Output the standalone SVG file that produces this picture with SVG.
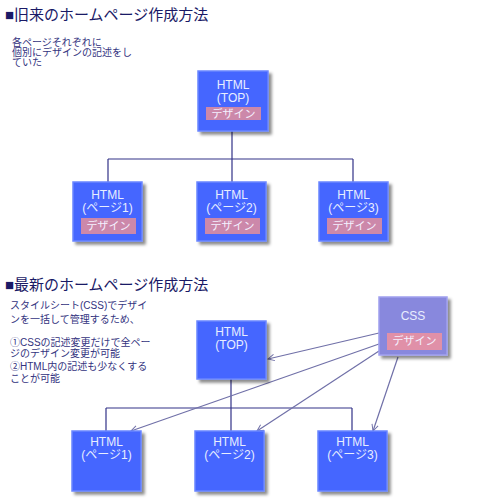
<svg xmlns="http://www.w3.org/2000/svg" width="480" height="500" viewBox="0 0 480 500">
<defs>
<filter id="sh" x="-20%" y="-20%" width="150%" height="150%">
<feDropShadow dx="3" dy="3" stdDeviation="1.5" flood-color="#000" flood-opacity="0.45"/>
</filter>
<marker id="ar" viewBox="0 0 10 10" refX="9" refY="5" markerWidth="8" markerHeight="8" orient="auto" markerUnits="userSpaceOnUse">
<path d="M1,1 L9,5 L1,9" fill="none" stroke="#7070a8" stroke-width="1.2"/>
</marker>
</defs>
<style>
text{font-family:"Liberation Sans","Noto Sans CJK JP",sans-serif}
.title{font-size:15px;fill:#1a1a66}
.note{font-size:10px;fill:#333380}
.box{fill:#4466ff;stroke:#6a86ff;stroke-width:1.5;filter:url(#sh)}
.css{fill:#8888dd;stroke:#a0a0ee;stroke-width:1.5;filter:url(#sh)}
.lbl{font-size:12px;fill:#e8eeff;text-anchor:middle}
.des{fill:#cc88aa}
.des2{fill:#e090a8}
.dt{font-size:11px;fill:#f4f0ff;text-anchor:middle}
.tree{fill:none;stroke:#333388;stroke-width:1.2}
.arr{fill:none;stroke:#7070a8;stroke-width:1.2;marker-end:url(#ar)}
</style>
<rect width="480" height="500" fill="#fff"/>
<text class="title" x="5" y="20">■旧来のホームページ作成方法</text>
<text class="note" x="12" y="46">各ページそれぞれに</text>
<text class="note" x="12" y="56">個別にデザインの記述をし</text>
<text class="note" x="12" y="66">ていた</text>
<g id="connectors-old">
<path class="tree" d="M232,131 V159 M108,159 H353 M108,159 V182 M232,159 V182 M353,159 V182"/>
</g>
<g id="old-top">
<rect class="box" x="198" y="71" width="70" height="60"/>
<text class="lbl" x="233" y="89">HTML</text>
<text class="lbl" x="233" y="102">(TOP)</text>
<rect class="des" x="206" y="107" width="55" height="13"/>
<text class="dt" x="233.5" y="118">デザイン</text>
</g>
<g id="old-p1">
<rect class="box" x="73" y="182" width="69" height="59"/>
<text class="lbl" x="107.5" y="199">HTML</text>
<text class="lbl" x="107.5" y="212">(ページ1)</text>
<rect class="des" x="81" y="218" width="55" height="16"/>
<text class="dt" x="108.5" y="230">デザイン</text>
</g>
<g id="old-p2">
<rect class="box" x="197" y="182" width="69" height="59"/>
<text class="lbl" x="231.5" y="199">HTML</text>
<text class="lbl" x="231.5" y="212">(ページ2)</text>
<rect class="des" x="205" y="218" width="55" height="16"/>
<text class="dt" x="232.5" y="230">デザイン</text>
</g>
<g id="old-p3">
<rect class="box" x="319" y="182" width="69" height="59"/>
<text class="lbl" x="353.5" y="199">HTML</text>
<text class="lbl" x="353.5" y="212">(ページ3)</text>
<rect class="des" x="327" y="218" width="55" height="16"/>
<text class="dt" x="354.5" y="230">デザイン</text>
</g>
<text class="title" x="5" y="290">■最新のホームページ作成方法</text>
<text class="note" x="10" y="309">スタイルシート(CSS)でデザイ</text>
<text class="note" x="10" y="323">ンを一括して管理するため、</text>
<text class="note" x="10" y="346">①CSSの記述変更だけで全ペー</text>
<text class="note" x="10" y="357">ジのデザイン変更が可能</text>
<text class="note" x="10" y="370">②HTML内の記述も少なくする</text>
<text class="note" x="10" y="382">ことが可能</text>
<g id="connectors-new">
<path class="tree" d="M231,379 V431 M106,408 H352 M106,408 V431 M352,408 V431"/>
<path class="arr" d="M379,333 L268,359"/>
<path class="arr" d="M379,344 L131,431"/>
<path class="arr" d="M379,351 L257,431"/>
<path class="arr" d="M398,357 L373,431"/>
</g>
<g id="new-top">
<rect class="box" x="197" y="321" width="69" height="58"/>
<text class="lbl" x="231.5" y="336">HTML</text>
<text class="lbl" x="231.5" y="349">(TOP)</text>
</g>
<g id="new-css">
<rect class="css" x="379" y="297" width="68" height="58"/>
<text class="lbl" x="413" y="320">CSS</text>
<rect class="des2" x="387" y="333" width="55" height="17"/>
<text class="dt" x="414.5" y="345">デザイン</text>
</g>
<g id="new-p1">
<rect class="box" x="72" y="431" width="69" height="60"/>
<text class="lbl" x="106.5" y="446">HTML</text>
<text class="lbl" x="106.5" y="459">(ページ1)</text>
</g>
<g id="new-p2">
<rect class="box" x="195" y="431" width="69" height="60"/>
<text class="lbl" x="229.5" y="446">HTML</text>
<text class="lbl" x="229.5" y="459">(ページ2)</text>
</g>
<g id="new-p3">
<rect class="box" x="318" y="431" width="69" height="60"/>
<text class="lbl" x="352.5" y="446">HTML</text>
<text class="lbl" x="352.5" y="459">(ページ3)</text>
</g>
</svg>
